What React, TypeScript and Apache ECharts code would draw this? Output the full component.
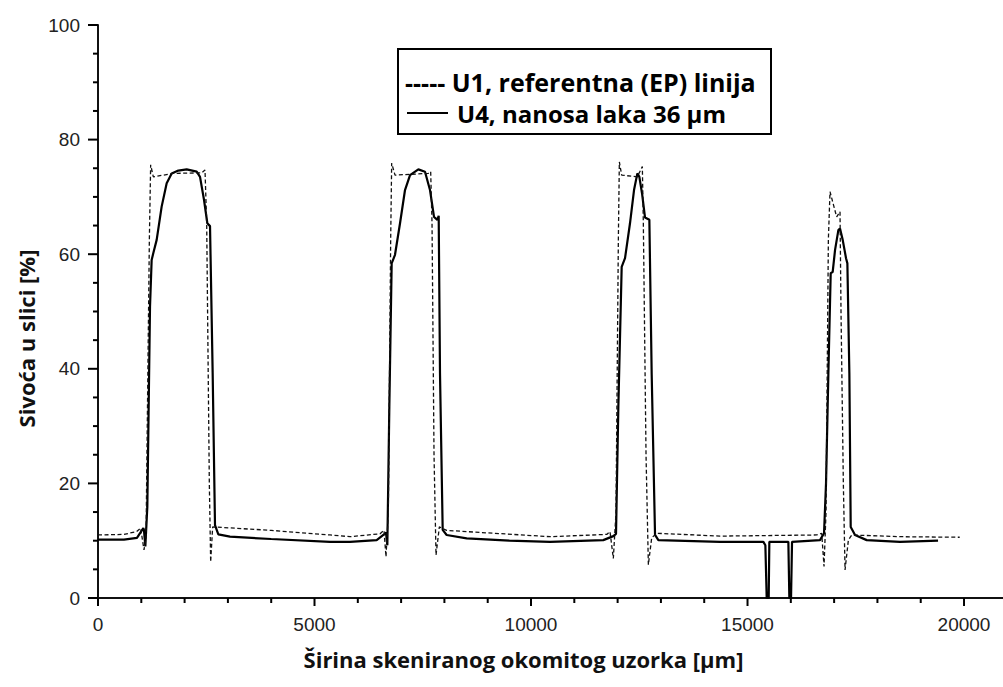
import React, { useEffect, useRef } from "react";
import * as echarts from "echarts";

const xTitle = "Širina skeniranog okomitog uzorka [µm]";
const yTitle = "Sivoća u slici [%]";
const u1Name = "U1, referentna (EP) linija";
const u4Name = "U4, nanosa laka 36 µm";

const xMin = 0;
const xMax = 20900;
const xInterval = 5000;
const yMin = 0;
const yMax = 100;
const yInterval = 20;

// tick positions (major ticks carry labels)
const xMajorTicks = [0, 5000, 10000, 15000, 20000];
const xMinorTicks = [1000, 2000, 3000, 4000, 6000, 7000, 8000, 9000, 11000, 12000, 13000, 14000, 16000, 17000, 18000, 19000];
const yMajorTicks = [0, 20, 40, 60, 80, 100];
const yMinorTicks = [5, 10, 15, 25, 30, 35, 45, 50, 55, 65, 70, 75, 85, 90, 95];

// U1 reference line (dashed): [width µm, greyness %]
const u1Data: [number, number][] = [
  [0, 11.0], [600, 11.1], [893, 11.6], [985, 12.2], [1062, 8.4], [1109, 10.5],
  [1186, 62.5], [1216, 75.6], [1278, 73.5], [1740, 74.1], [2394, 74.2], [2471, 74.7],
  [2510, 65.4], [2571, 20], [2602, 6.3], [2648, 12.4], [2894, 12.3], [4000, 11.8],
  [5358, 11.0], [5820, 10.7], [6513, 11.2], [6605, 11.8], [6651, 7.2], [6705, 15],
  [6759, 62.5], [6782, 75.9], [6859, 73.8], [7629, 74.1], [7683, 74.4], [7714, 65.4],
  [7760, 25], [7806, 7.5], [7883, 12.4], [8052, 11.8], [10439, 10.7], [11748, 11.1],
  [11824, 11.6], [11901, 6.9], [11963, 15], [12017, 62.5], [12040, 76.1], [12094, 73.8],
  [12456, 73.5], [12571, 75.3], [12594, 65.4], [12656, 25], [12710, 5.8], [12787, 10.5],
  [12902, 11.3], [14365, 10.8], [16597, 11.0], [16713, 11.3], [16767, 5.5], [16813, 15],
  [16867, 62.5], [16905, 70.9], [17059, 66.5], [17136, 67.4], [17159, 50], [17213, 20],
  [17252, 4.9], [17329, 10.1], [17406, 11.0], [18522, 10.7], [19900, 10.6],
];

// U4, 36 µm lacquer (solid)
const u4Data: [number, number][] = [
  [0, 10.2], [600, 10.2], [900, 10.5], [1047, 12.2], [1062, 11.8], [1093, 9.0],
  [1139, 15.9], [1201, 50.8], [1239, 59.0], [1278, 60.2], [1355, 62.5], [1470, 68.3],
  [1586, 72.4], [1701, 74.1], [1855, 74.6], [2048, 74.8], [2279, 74.4], [2356, 73.5],
  [2448, 69.5], [2525, 65.4], [2587, 64.9], [2648, 39.3], [2702, 12.7], [2779, 11.1],
  [3048, 10.7], [4000, 10.3], [5358, 9.8], [5820, 9.8], [6436, 10.1], [6590, 11.0],
  [6651, 11.4], [6682, 9.2], [6728, 33.4], [6782, 58.4], [6859, 59.9], [6975, 65.4],
  [7090, 71.2], [7206, 73.8], [7398, 74.8], [7552, 74.4], [7667, 71.2], [7760, 66.5],
  [7837, 66.0], [7868, 66.7], [7898, 39.2], [7960, 11.9], [8052, 11.0], [8514, 10.4],
  [9500, 10.0], [10439, 9.8], [11670, 10.1], [11901, 10.8], [11963, 11.2], [12017, 33.4],
  [12094, 57.8], [12171, 59.3], [12286, 65.4], [12379, 71.2], [12456, 74.1], [12502, 73.5],
  [12564, 70.6], [12633, 66.4], [12733, 66.0], [12787, 39], [12864, 11.0], [12941, 10.1],
  [14365, 9.8], [15366, 9.8], [15412, 9.2], [15443, 0], [15489, 0], [15504, 9.8],
  [15943, 9.8], [15966, 0], [16005, 0], [16028, 9.8], [16674, 10.1], [16767, 11.3],
  [16813, 20], [16867, 39.2], [16921, 56.7], [16967, 56.9], [17021, 60.7], [17098, 64.2],
  [17136, 64.5], [17198, 62.5], [17275, 59.3], [17306, 58.4], [17352, 39.2], [17383, 12.4],
  [17483, 11.0], [17752, 10.1], [18522, 9.8], [19400, 10.0],
];

const labelFont = "'Liberation Sans', Arial, sans-serif";
const titleFont = "'Open Sans', Lato, sans-serif";

// [x value, y value, tick length, axis (0 = x, 1 = y)]
const tickItems: [number, number, number, number][] = [
  ...xMajorTicks.map((v) => [v, yMin, 8, 0] as [number, number, number, number]),
  ...xMinorTicks.map((v) => [v, yMin, 5, 0] as [number, number, number, number]),
  ...yMajorTicks.map((v) => [xMin, v, 10, 1] as [number, number, number, number]),
  ...yMinorTicks.map((v) => [xMin, v, 5, 1] as [number, number, number, number]),
];

export default function App() {
  const ref = useRef<HTMLDivElement>(null);
  useEffect(() => {
    const chart = echarts.init(ref.current!, null, { renderer: "svg" });
    chart.setOption({
      animation: false,
      backgroundColor: "#fff",
      grid: { left: 98, top: 25, right: 0, bottom: 89 },
      xAxis: {
        type: "value",
        min: xMin,
        max: xMax,
        interval: xInterval,
        name: xTitle,
        nameLocation: "middle",
        nameGap: 50,
        nameTextStyle: {
          fontFamily: titleFont,
          fontWeight: "bold",
          fontSize: 22,
          color: "#111",
          padding: [0, 54, 0, 0],
        },
        axisLine: { show: true, lineStyle: { color: "#111", width: 2 } },
        axisTick: { show: false },
        splitLine: { show: false },
        axisLabel: {
          showMaxLabel: false,
          margin: 17,
          fontFamily: labelFont,
          fontSize: 19,
          color: "#222",
          formatter: (v: number) => String(v),
        },
      },
      yAxis: {
        type: "value",
        min: yMin,
        max: yMax,
        interval: yInterval,
        name: yTitle,
        nameLocation: "middle",
        nameGap: 52,
        nameTextStyle: {
          fontFamily: titleFont,
          fontWeight: "bold",
          fontSize: 22,
          color: "#111",
          padding: [0, 54, 0, 0],
        },
        axisLine: { show: true, lineStyle: { color: "#111", width: 2 } },
        axisTick: { show: false },
        splitLine: { show: false },
        axisLabel: { margin: 18, fontFamily: labelFont, fontSize: 19, color: "#222" },
      },
      series: [
        {
          name: u1Name,
          type: "line",
          data: u1Data,
          symbol: "none",
          lineStyle: { color: "#111", width: 1.3, type: [4, 2.5] },
          z: 3,
        },
        {
          name: u4Name,
          type: "line",
          data: u4Data,
          symbol: "none",
          lineStyle: { color: "#000", width: 2.2 },
          z: 2,
        },
        {
          name: "ticks",
          type: "custom",
          silent: true,
          clip: false,
          z: 4,
          data: tickItems,
          renderItem: (_params: any, api: any) => {
            const p = api.coord([api.value(0), api.value(1)]);
            const len = api.value(2);
            const axis = api.value(3);
            const shape =
              axis === 0
                ? { x1: p[0], y1: p[1], x2: p[0], y2: p[1] + len }
                : { x1: p[0] - len, y1: p[1], x2: p[0], y2: p[1] };
            return { type: "line", shape, style: { stroke: "#000", lineWidth: 2 } };
          },
        },
      ],
      graphic: [
        {
          type: "rect",
          shape: { x: 398, y: 49, width: 373, height: 85 },
          style: { fill: "#fff", stroke: "#000", lineWidth: 2 },
          z: 10,
        },
        {
          type: "text",
          x: 405,
          y: 82,
          style: {
            text: "----- " + u1Name,
            fontFamily: titleFont,
            fontWeight: "bold",
            fontSize: 25,
            fill: "#000",
            verticalAlign: "middle",
          },
          z: 11,
        },
        {
          type: "line",
          shape: { x1: 407, y1: 113, x2: 448, y2: 113 },
          style: { stroke: "#000", lineWidth: 2 },
          z: 11,
        },
        {
          type: "text",
          x: 457,
          y: 113,
          style: {
            text: u4Name,
            fontFamily: titleFont,
            fontWeight: "bold",
            fontSize: 24,
            fill: "#000",
            verticalAlign: "middle",
          },
          z: 11,
        },
      ],
    });
    return () => chart.dispose();
  }, []);
  return (
    <div
      ref={ref}
      style={{ position: "absolute", left: 0, top: 0, width: 1003, height: 687, background: "#fff" }}
    />
  );
}
